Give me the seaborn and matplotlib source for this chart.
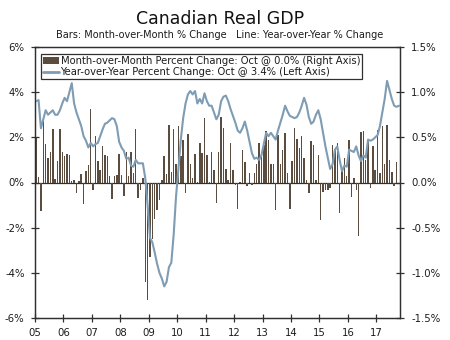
import numpy as np
import pandas as pd
import matplotlib
matplotlib.use("Agg")
import matplotlib.pyplot as plt
import seaborn as sns
from matplotlib.patches import Patch
from matplotlib.lines import Line2D

# ---------------- data ----------------
start_year = 2005

# Year-over-Year % change (left axis), monthly Jan 2005 .. Oct 2017
yoy = [
    3.6, 3.65, 2.4, 2.8, 3.2, 3.0, 3.1, 3.2, 3.0, 3.0, 3.2, 3.5,
    3.75, 3.6, 4.0, 4.4, 3.5, 3.1, 2.8, 2.5, 2.05, 1.85, 1.55, 1.75,
    1.6, 1.7, 1.75, 2.05, 2.35, 2.6, 2.65, 2.75, 2.85, 2.8, 2.5, 1.8,
    1.55, 1.4, 1.05, 1.1, 0.75, 0.7, 1.0, 0.85, 0.85, 0.85, 0.2, -1.0,
    -2.45, -2.65, -3.1, -3.6, -4.0, -4.25, -4.6, -4.4, -3.75, -3.55, -2.3, -0.6,
    0.6, 1.9, 2.85, 3.5, 3.9, 4.05, 3.9, 4.05, 3.5, 3.7, 3.5, 3.95,
    3.6, 3.4, 3.4, 3.1, 2.8, 3.0, 3.6, 3.8, 3.85, 3.6, 3.25, 2.95,
    2.65, 2.3, 2.2, 2.4, 2.7, 2.3, 1.8, 1.3, 1.05, 1.1, 1.0, 1.2,
    1.7, 2.2, 2.05, 2.2, 2.05, 1.9, 2.3, 2.65, 3.0, 3.4, 3.15, 2.95,
    2.9, 2.85, 2.9, 3.1, 3.4, 3.75, 3.45, 2.9, 2.6, 2.7, 3.0, 3.2,
    2.8, 2.2, 1.6, 1.1, 0.6, 0.8, 1.45, 1.6, 1.0, 0.5, 0.75, 0.7,
    1.45, 1.4, 1.35, 1.6, 1.2, 0.95, 1.2, 1.1, 1.9, 1.85, 1.9, 2.0,
    2.1, 2.5, 3.1, 3.7, 4.5, 4.1, 3.7, 3.4, 3.35, 3.4,
]

# Month-over-Month % change (right axis)
mom = [
    0.50, 0.06, -0.32, 0.68, 0.43, 0.27, 0.34, 0.59, 0.04, 0.24, 0.59, 0.34,
    0.29, 0.31, 0.30, 0.02, 0.03, -0.12, 0.02, 0.09, -0.24, 0.13, 0.19, 0.81,
    -0.08, 0.51, 0.24, 0.14, 0.40, 0.30, 0.29, 0.07, -0.18, 0.07, 0.08, 0.31,
    0.08, -0.15, 0.34, 0.07, 0.34, 0.10, 0.59, -0.17, -0.08, 0.05, -1.10, -1.30,
    -0.82, -0.62, -0.40, -0.30, -0.19, 0.03, 0.29, 0.09, 0.64, 0.12, 0.59, 0.20,
    0.62, 0.29, 0.47, -0.12, 0.54, 0.21, 0.05, 0.31, 0.01, 0.44, 0.33, 0.71,
    0.30, 0.01, 0.34, 0.14, -0.23, 0.34, 0.73, 0.60, 0.15, 0.03, 0.44, 0.14,
    -0.03, -0.29, 0.01, 0.36, 0.23, -0.04, 0.11, -0.03, 0.10, 0.20, 0.44, 0.33,
    0.42, 0.57, 0.47, 0.21, 0.20, -0.30, 0.53, 0.20, 0.36, 0.55, 0.10, -0.29,
    0.24, 0.60, 0.48, 0.38, 0.52, 0.27, 0.03, -0.12, 0.46, 0.41, 0.03, 0.30,
    -0.42, -0.10, -0.08, -0.08, -0.06, 0.42, 0.36, 0.44, -0.34, 0.14, 0.27, 0.07,
    0.47, -0.16, 0.05, -0.08, -0.59, 0.56, 0.57, 0.25, 0.47, -0.06, 0.40, 0.14,
    0.58, 0.10, 0.62, 0.20, 0.64, 0.25, 0.12, -0.04, 0.23, 0.00,
]

year_ticks = list(range(2005, 2018))
year_labels = ["05", "06", "07", "08", "09", "10", "11", "12", "13", "14", "15", "16", "17"]
left_ticks = [-6, -4, -2, 0, 2, 4, 6]
left_labels = ["-6%", "-4%", "-2%", "0%", "2%", "4%", "6%"]
right_ticks = [-1.5, -1.0, -0.5, 0.0, 0.5, 1.0, 1.5]
right_labels = ["-1.5%", "-1.0%", "-0.5%", "0.0%", "0.5%", "1.0%", "1.5%"]

title = "Canadian Real GDP"
subtitle = "Bars: Month-over-Month % Change   Line: Year-over-Year % Change"
bar_label = "Month-over-Month Percent Change: Oct @ 0.0% (Right Axis)"
line_label = "Year-over-Year Percent Change: Oct @ 3.4% (Left Axis)"

# ---------------- style ----------------
bar_color = "#5b4c40"
line_color = "#7e9cb3"
ink = "#1c1c1c"
spine_color = "#303030"

months = np.arange(len(yoy))
xpos = start_year + (months + 0.5) / 12.0
df = pd.DataFrame({"x": xpos, "yoy": yoy, "mom": mom})

sns.set_theme(style="white")
plt.rcParams["font.family"] = ["DejaVu Sans"]

fig = plt.figure(figsize=(4.5, 3.4), dpi=100)
W, H = 450, 340
ax = fig.add_axes([35 / W, 22 / H, 365 / W, 271 / H])
ax2 = ax.twinx()

sns.barplot(data=df, x="x", y="mom", native_scale=True, errorbar=None,
            color=bar_color, saturation=1, width=0.62, linewidth=0, ax=ax2)
ax2.axhline(0, color=spine_color, lw=0.9, zorder=0.5)
sns.lineplot(data=df, x="x", y="yoy", color=line_color, linewidth=1.5, ax=ax)

ax.set_zorder(ax2.get_zorder() + 1)
ax.patch.set_visible(False)

ax.set_xlim(2005, 2017.83)
ax2.set_xlim(2005, 2017.83)
ax.set_ylim(-6, 6)
ax2.set_ylim(-1.5, 1.5)

ax.set_xticks(year_ticks)
ax.set_xticklabels(year_labels)
ax.set_yticks(left_ticks)
ax.set_yticklabels(left_labels)
ax2.set_yticks(right_ticks)
ax2.set_yticklabels(right_labels)
ax.set_xlabel("")
ax.set_ylabel("")
ax2.set_xlabel("")
ax2.set_ylabel("")

for a in (ax, ax2):
    for s in a.spines.values():
        s.set_visible(True)
        s.set_color(spine_color)
        s.set_linewidth(0.9)
ax.tick_params(axis="y", direction="inout", length=6, width=0.9, pad=4.5,
               labelsize=7.3, colors=spine_color, labelcolor=ink, left=True)
ax2.tick_params(axis="y", direction="inout", length=6, width=0.9, pad=5,
                labelsize=7.3, colors=spine_color, labelcolor=ink, right=True)
ax.tick_params(axis="x", direction="inout", length=6, width=0.9, pad=4,
               labelsize=7.3, colors=spine_color, labelcolor=ink, bottom=True)

handles = [Patch(facecolor=bar_color, edgecolor="none", label=bar_label),
           Line2D([], [], color=line_color, lw=2, label=line_label)]
leg = ax.legend(handles=handles, loc="upper left", bbox_to_anchor=(0.016, 0.974),
                borderaxespad=0, frameon=True, fancybox=False, fontsize=7.2,
                handlelength=1.6, handletextpad=0.15, borderpad=0.22,
                labelspacing=0.08)
leg.get_frame().set_edgecolor(spine_color)
leg.get_frame().set_linewidth(0.9)
leg.get_frame().set_facecolor("white")
leg.get_frame().set_alpha(1)
for t in leg.get_texts():
    t.set_color(ink)

fig.text(0.489, 0.944, title, ha="center", va="center", fontsize=12.5, color="#111111")
fig.text(0.489, 0.896, subtitle, ha="center", va="center", fontsize=7.0, color=ink)

fig.savefig("out.png", dpi=100, facecolor="white")
